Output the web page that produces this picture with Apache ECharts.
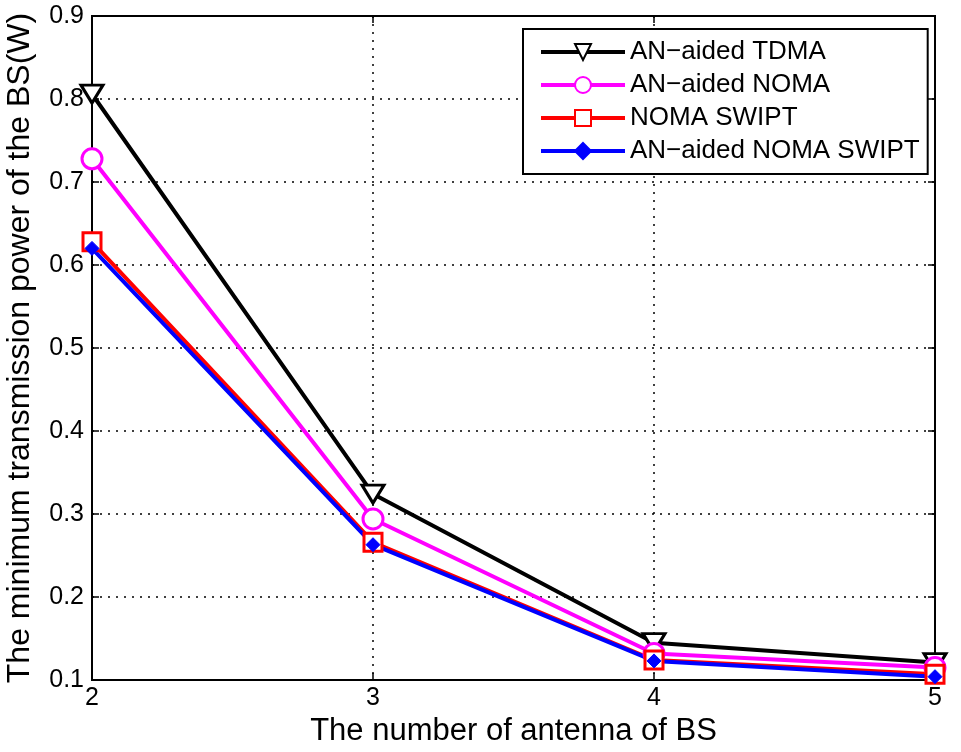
<!DOCTYPE html>
<html>
<head>
<meta charset="utf-8">
<script src="https://cdn.jsdelivr.net/npm/echarts@6/dist/echarts.min.js"></script>
<style>html,body{margin:0;padding:0;background:#fff;}#c{width:961px;height:752px;}</style>
</head>
<body>
<div id="c"></div>
<script>
const antennas = [2, 3, 4, 5];
const tdma = [0.806, 0.324, 0.145, 0.121];
const noma = [0.728, 0.294, 0.132, 0.115];
const nomaSwipt = [0.628, 0.266, 0.124, 0.107];
const anNomaSwipt = [0.620, 0.263, 0.123, 0.104];
const seriesNames = ['AN\u2212aided TDMA', 'AN\u2212aided NOMA', 'NOMA SWIPT', 'AN\u2212aided NOMA SWIPT'];
const xTitle = 'The number of antenna of BS';
const yTitle = 'The minimum transmission power of the BS(W)';

const FONT = 'Liberation Sans, Arial, sans-serif';
const pairs = a => antennas.map((x, i) => [x, a[i]]);
const chart = echarts.init(document.getElementById('c'), null, {renderer: 'canvas'});

function mk(name, data, color, symbol, opts) {
  return Object.assign({
    name, type: 'line', data: pairs(data),
    xAxisIndex: 0, yAxisIndex: 0,
    symbol, symbolSize: 18,
    lineStyle: {color, width: 4},
    itemStyle: {color: '#fff', borderColor: color, borderWidth: 3},
    emphasis: {disabled: true},
    animation: false
  }, opts || {});
}

const gridLine = {show: true, lineStyle: {color: '#000', type: [2, 6], width: 1.5}};
const tick = {show: true, inside: true, length: 7, lineStyle: {color: '#000', width: 1.5}};
chart.setOption({
  backgroundColor: '#fff',
  textStyle: {fontFamily: FONT, color: '#000'},
  grid: {left: 92, right: 26, top: 16, bottom: 72, show: true, borderColor: '#000', borderWidth: 2, backgroundColor: '#fff', containLabel: false, outerBoundsMode: 'none'},
  legend: {
    orient: 'vertical', left: 523, top: 29,
    backgroundColor: '#fff', borderColor: '#000', borderWidth: 2,
    padding: [10, 8, 10, 16],
    itemWidth: 84, itemHeight: 20, itemGap: 7,
    lineStyle: {width: 4},
    textStyle: {fontSize: 26, fontFamily: FONT, color: '#000'},
    data: seriesNames
  },
  xAxis: [{
    type: 'value', min: 2, max: 5, interval: 1,
    name: xTitle, nameLocation: 'middle', nameGap: 32,
    nameTextStyle: {fontSize: 31, fontFamily: FONT, color: '#000'},
    axisLine: {show: true, lineStyle: {color: '#000', width: 2}},
    axisTick: tick,
    axisLabel: {fontSize: 25, color: '#000', margin: 6, fontFamily: FONT},
    splitLine: gridLine
  }, {
    type: 'value', min: 2, max: 5, interval: 1, position: 'top',
    axisLine: {show: false}, axisLabel: {show: false}, splitLine: {show: false},
    axisTick: tick
  }],
  yAxis: [{
    type: 'value', min: 0.1, max: 0.9, interval: 0.1,
    name: yTitle, nameLocation: 'middle', nameGap: 56,
    nameTextStyle: {fontSize: 32, fontFamily: FONT, color: '#000'},
    axisLine: {show: true, lineStyle: {color: '#000', width: 2}},
    axisTick: tick,
    axisLabel: {fontSize: 25, color: '#000', margin: 8, fontFamily: FONT, formatter: v => v.toFixed(1)},
    splitLine: gridLine
  }, {
    type: 'value', min: 0.1, max: 0.9, interval: 0.1, position: 'right',
    axisLine: {show: false}, axisLabel: {show: false}, splitLine: {show: false},
    axisTick: tick
  }],
  series: [
    mk(seriesNames[0], tdma, '#000', 'triangle', {symbolRotate: 180, symbolSize: [22, 18]}),
    mk(seriesNames[1], noma, '#ff00ff', 'circle', {symbolSize: 20}),
    mk(seriesNames[2], nomaSwipt, '#ff0000', 'rect', {symbolSize: 18}),
    mk(seriesNames[3], anNomaSwipt, '#0000ff', 'diamond', {symbolSize: 14, itemStyle: {color: '#0000ff', borderColor: '#0000ff', borderWidth: 1}})
  ]
});
</script>
</body>
</html>
